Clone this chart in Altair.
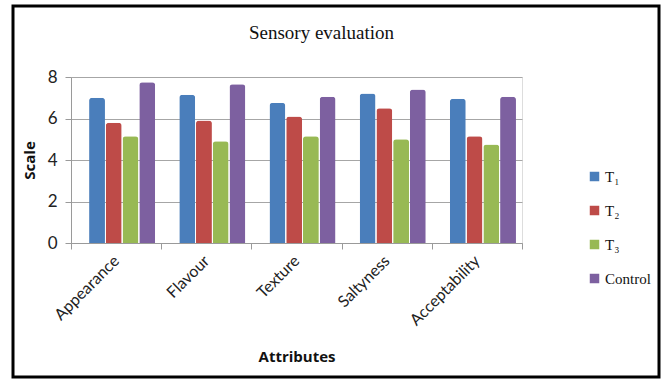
import altair as alt
import pandas as pd

# Sensory scores per attribute and treatment
attributes = ["Appearance", "Flavour", "Texture", "Saltyness", "Acceptability"]
series = ["T₁", "T₂", "T₃", "Control"]
t1 = [7.0, 7.15, 6.75, 7.2, 6.95]
t2 = [5.8, 5.9, 6.1, 6.5, 5.15]
t3 = [5.15, 4.9, 5.15, 5.0, 4.75]
control = [7.75, 7.65, 7.05, 7.4, 7.05]
colors = ["#4A7EBB", "#BE4B48", "#98B954", "#7D60A0"]
heading_text = ["Sensory evaluation"]

rows = []
for name, vals in zip(series, [t1, t2, t3, control]):
    for attr, v in zip(attributes, vals):
        rows.append({"Attribute": attr, "Series": name, "Score": v})
df = pd.DataFrame(rows)
single = pd.DataFrame({"label": heading_text})

W, H = 451, 166

bars = alt.Chart(df).mark_bar(cornerRadiusTopLeft=3, cornerRadiusTopRight=3).encode(
    x=alt.X("Attribute:N", sort=attributes,
            scale=alt.Scale(paddingInner=0, paddingOuter=0),
            axis=alt.Axis(title="Attributes", labelAngle=-45, labelAlign="right",
                          labelBaseline="middle", labelPadding=9, tickBand="extent",
                          tickSize=6, tickColor="#9a9a9a", domainColor="#9a9a9a",
                          labelFont="Lato", labelFontSize=16, labelColor="#222222",
                          titleFont="Open Sans", titleFontSize=15, titleFontWeight="bold",
                          titleColor="#111111", titlePadding=21, grid=False)),
    xOffset=alt.XOffset("Series:N", sort=series,
                        scale=alt.Scale(paddingInner=0.05, paddingOuter=0.72, align=0.75)),
    y=alt.Y("Score:Q", scale=alt.Scale(domain=[0, 8]),
            axis=alt.Axis(title="Scale", values=[0, 2, 4, 6, 8], tickSize=6,
                          tickColor="#9a9a9a", domainColor="#9a9a9a",
                          gridColor="#a6a6a6", labelFont="Lato", labelFontSize=17,
                          labelColor="#222222", labelPadding=8,
                          titleFont="Open Sans", titleFontSize=15,
                          titleFontWeight="bold", titleColor="#111111",
                          titlePadding=10)),
    color=alt.Color("Series:N", sort=series,
                    scale=alt.Scale(domain=series, range=colors),
                    legend=alt.Legend(title=None, orient="none", legendX=516,
                                      legendY=92, symbolType="square",
                                      symbolSize=90, symbolStrokeWidth=0,
                                      labelFont="Liberation Serif", labelFontSize=15,
                                      labelColor="#111111", rowPadding=18,
                                      labelOffset=3)),
)

# Chart heading, drawn as text so the frame does not push it upward
heading = alt.Chart(single).mark_text(font="Liberation Serif", fontSize=19,
                                      color="#111111", align="center",
                                      baseline="middle").encode(
    text="label:N", x=alt.value(W / 2 + 25), y=alt.value(-44),
)

# Outer frame around the whole figure
frame = alt.Chart(single).mark_rect(filled=False, stroke="#000000", strokeWidth=3,
                                    clip=False).encode(
    x=alt.value(-58), x2=alt.value(W + 137),
    y=alt.value(-71), y2=alt.value(H + 134),
)

chart = alt.layer(bars, heading, frame).properties(
    width=W, height=H,
    autosize=alt.AutoSizeParams(type="none"),
    padding={"left": 71, "top": 77, "right": 141, "bottom": 136},
).configure_view(stroke=None).configure(background="white")

chart.save("out.html", embed_options={"renderer": "svg", "actions": False})
